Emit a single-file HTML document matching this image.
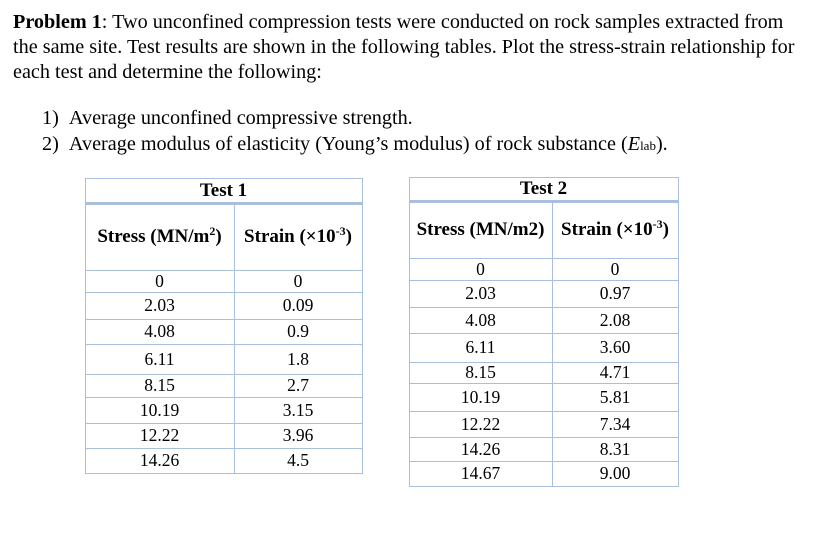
<!DOCTYPE html>
<html><head><meta charset="utf-8"><style>
body{margin:0;width:816px;height:541px;background:#fff;position:relative;overflow:hidden;font-family:"Liberation Serif",serif;color:#000}
.t{position:absolute;white-space:nowrap;font-size:20.2px}
.l{position:absolute;background:#a9bfdc}
.c{position:absolute;font-size:17.5px;text-align:center;display:flex;align-items:center;justify-content:center;white-space:nowrap}
.h{font-weight:bold;font-size:19px}
sup{font-size:12px;vertical-align:7px;line-height:0}
</style></head><body>
<div class="t" style="left:13px;top:11px"><b>Problem 1</b>: Two unconfined compression tests were conducted on rock samples extracted from</div>
<div class="t" style="left:13px;top:36px">the same site. Test results are shown in the following tables. Plot the stress-strain relationship for</div>
<div class="t" style="left:13px;top:61px">each test and determine the following:</div>
<div class="t" style="left:42px;top:107px">1)&nbsp;&nbsp;Average unconfined compressive strength.</div>
<div class="t" style="left:42px;top:133px">2)&nbsp;&nbsp;Average modulus of elasticity (Young’s modulus) of rock substance (<i>E</i><span style="font-size:13px">lab</span>).</div>
<div id="t1"></div>
<div id="t2"></div>
<script>
const t1Stress=["0","2.03","4.08","6.11","8.15","10.19","12.22","14.26"];
const t1Strain=["0","0.09","0.9","1.8","2.7","3.15","3.96","4.5"];
const t2Stress=["0","2.03","4.08","6.11","8.15","10.19","12.22","14.26","14.67"];
const t2Strain=["0","0.97","2.08","3.60","4.71","5.81","7.34","8.31","9.00"];
function line(p,x,y,w,h,name){const d=document.createElement('div');d.className='l';


d.style.cssText=`left:${x}px;top:${y}px;width:${w}px;height:${h}px`;p.appendChild(d);}
function cell(p,x,y,w,h,txt,cls,name){const d=document.createElement('div');d.className='c '+cls;


d.style.cssText=`left:${x}px;top:${y}px;width:${w}px;height:${h}px`;d.innerHTML='<span>'+txt+'</span>';p.appendChild(d);}
function table(id,L,R,D,top,thick,hb,rows,s,e,title,h1){
 const p=document.getElementById(id);
 line(p,L,top,R-L+1,1,'table-border-top');
 line(p,L,top,1,rows[rows.length-1]-top+1,'table-border-left');
 line(p,R,top,1,rows[rows.length-1]-top+1,'table-border-right');
 line(p,L,thick-1,R-L+1,3,'header-rule');
 line(p,D,thick,1,rows[rows.length-1]-thick,'column-divider');
 line(p,L,hb,R-L+1,1,'header-bottom');
 cell(p,L,top,R-L,thick-top,title,'h','table-title');
 cell(p,L,thick,D-L,hb-thick,h1,'h','stress-header');
 cell(p,D,thick,R-D,hb-thick,'Strain (×10<sup>-3</sup>)','h','strain-header');
 let y=hb;
 for(let i=0;i<s.length;i++){const y2=rows[i];
  line(p,L,y2,R-L+1,1,'row-line');
  cell(p,L,y,D-L,y2-y,s[i],'','stress-value');
  cell(p,D,y,R-D,y2-y,e[i],'','strain-value');
  y=y2;}
}
table('t1',85,362,234,178,203,270,[292,319,344,374,397,423,448,473],t1Stress,t1Strain,'Test 1','Stress (MN/m<sup>2</sup>)');
table('t2',409,678,552,177,201,258,[280,307,333,362,383,411,437,461,486],t2Stress,t2Strain,'Test 2','Stress (MN/m2)');
</script>
</body></html>
